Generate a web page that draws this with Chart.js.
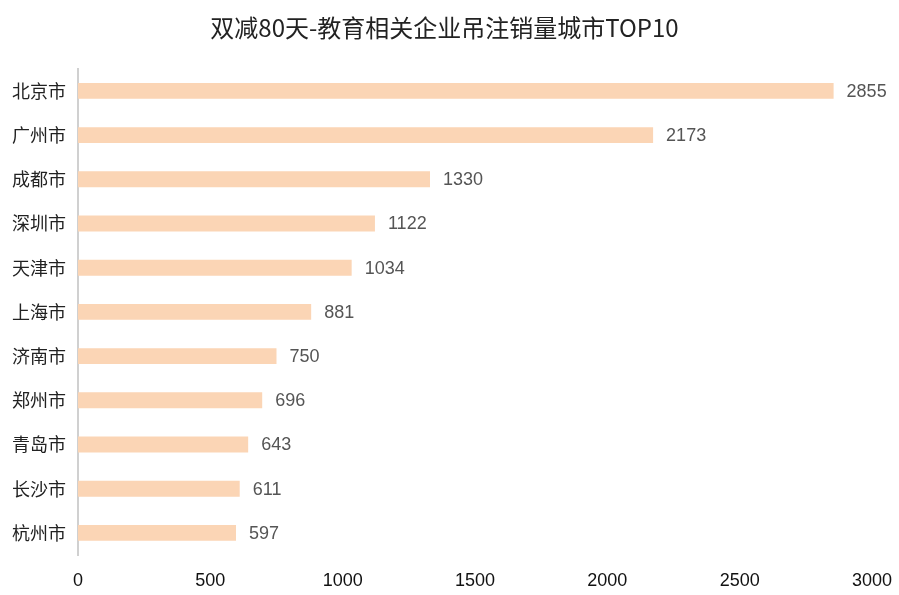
<!DOCTYPE html>
<html lang="zh">
<head>
<meta charset="UTF-8">
<title>双减80天-教育相关企业吊注销量城市TOP10</title>
<script src="https://cdn.jsdelivr.net/npm/chart.js"></script>
<style>
  html, body { margin: 0; padding: 0; background: #fff; }
  #wrap { width: 899px; height: 595px; }
</style>
</head>
<body>
<div id="wrap"><canvas id="chart"></canvas></div>
<script>
// city names and cancelled-company counts
const cities = ['北京市', '广州市', '成都市', '深圳市', '天津市', '上海市', '济南市', '郑州市', '青岛市', '长沙市', '杭州市'];
const counts = [2855, 2173, 1330, 1122, 1034, 881, 750, 696, 643, 611, 597];

// draws the number to the right of each bar
const valueLabels = {
    id: 'valueLabels',
    afterDatasetsDraw(chart) {
        const ctx = chart.ctx;
        const meta = chart.getDatasetMeta(0);
        ctx.save();
        ctx.font = '18px "Liberation Sans", Arial, sans-serif';
        ctx.fillStyle = '#555';
        ctx.textAlign = 'left';
        ctx.textBaseline = 'middle';
        meta.data.forEach((bar, i) => {
            ctx.fillText(String(counts[i]), bar.x + 13, bar.y + 1);
        });
        ctx.restore();
    }
};

new Chart(document.getElementById('chart'), {
    type: 'bar',
    data: {
        labels: cities,
        datasets: [{
            data: counts,
            backgroundColor: '#fbd5b5',
            categoryPercentage: 0.36,
            barPercentage: 1
        }]
    },
    options: {
        indexAxis: 'y',
        responsive: true,
        maintainAspectRatio: false,
        animation: false,
        layout: { padding: { top: 6, right: 18, bottom: 0, left: 8 } },
        plugins: {
            legend: { display: false },
            tooltip: { enabled: false },
            title: {
                display: true,
                text: '双减80天-教育相关企业吊注销量城市TOP10',
                color: '#222',
                font: { family: '"Noto Sans CJK SC", sans-serif', size: 24, weight: 'normal' },
                padding: { top: 7, bottom: 27 }
            }
        },
        scales: {
            x: {
                min: 0,
                max: 3000,
                grid: { display: false },
                border: { display: false },
                afterFit(scale) { scale.height = 40; },
                ticks: {
                    stepSize: 500,
                    color: '#111',
                    padding: 7,
                    font: { family: '"Liberation Sans", Arial, sans-serif', size: 18 },
                    callback: (v) => String(v)
                }
            },
            y: {
                grid: { display: false },
                border: { display: true, color: '#d0d0d0', width: 2 },
                afterFit(scale) { scale.width = 70; },
                ticks: {
                    color: '#222',
                    padding: 4,
                    font: { family: '"Noto Sans CJK SC", sans-serif', size: 18 }
                }
            }
        }
    },
    plugins: [valueLabels]
});
</script>
</body>
</html>
